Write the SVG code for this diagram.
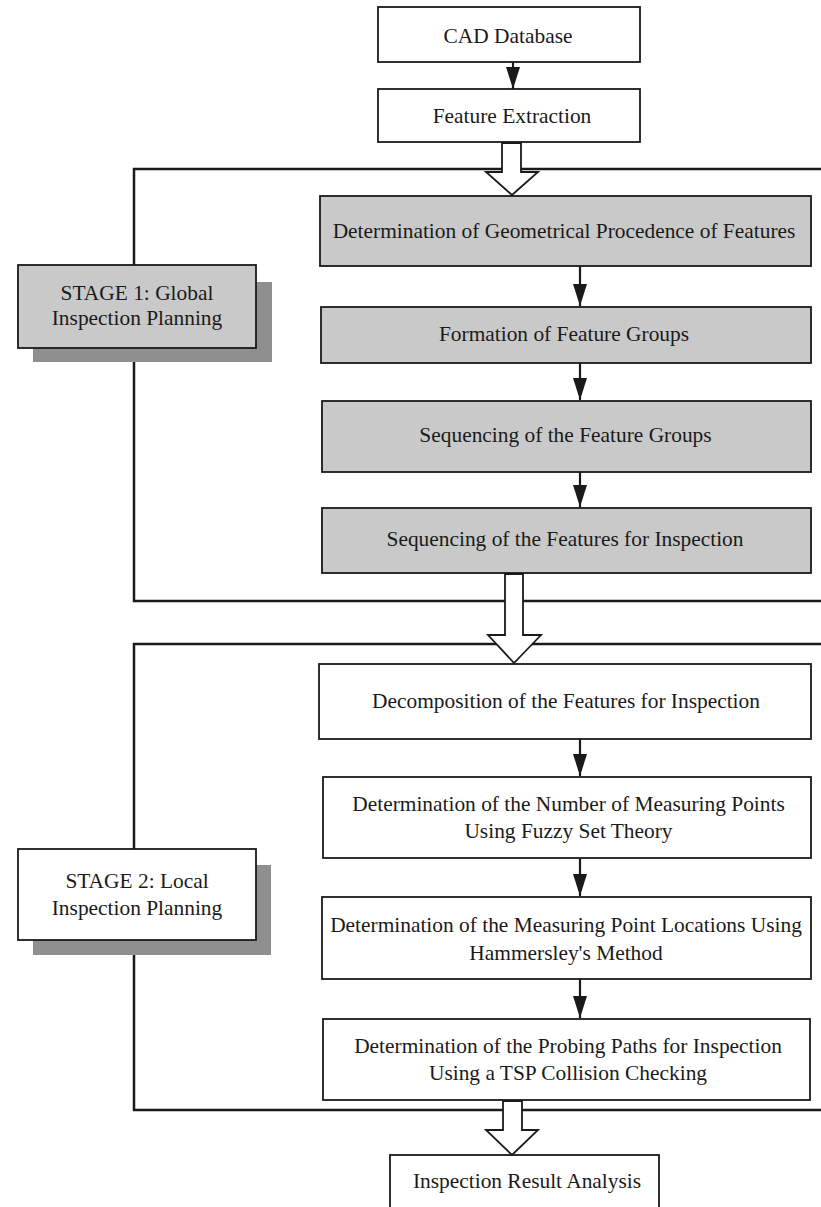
<svg xmlns="http://www.w3.org/2000/svg" width="821" height="1207" viewBox="0 0 821 1207">
<style>
.box{fill:#ffffff;stroke:#1a1a1a;stroke-width:1.8}
.gbox{fill:#c9c9c9;stroke:#1a1a1a;stroke-width:1.8}
.shadow{fill:#8f8f8f}
.t{font-family:"Liberation Serif","Times New Roman",serif;font-size:21.4px;fill:#1a1a1a;text-anchor:middle}
.br{fill:none;stroke:#1a1a1a;stroke-width:2.5}
.ln{stroke:#1a1a1a;stroke-width:2.2;fill:none}
.big{fill:#ffffff;stroke:#1a1a1a;stroke-width:1.8;stroke-linejoin:miter}
</style>
<defs>
<marker id="ah" markerUnits="userSpaceOnUse" markerWidth="22" markerHeight="14" refX="22" refY="7" orient="auto" viewBox="0 0 22 14">
<path d="M0,0 L22,7 L0,14 Z" fill="#1a1a1a"/>
</marker>
</defs>
<rect width="821" height="1207" fill="#ffffff"/>
<g id="brackets">
<polyline class="br" points="502,169 134,169 134,601 821,601"/>
<line class="br" x1="521" y1="169" x2="821" y2="169"/>
<polyline class="br" points="821,644 134,644 134,1110 821,1110"/>
</g>
<g id="cad"><rect class="box" x="378" y="7" width="262" height="55"/><text class="t" x="508" y="43">CAD Database</text></g>
<g id="fe"><rect class="box" x="378" y="89" width="262" height="53"/><text class="t" x="512" y="123">Feature Extraction</text></g>
<g id="stage1"><rect class="shadow" x="33" y="282" width="239" height="80"/><rect class="gbox" x="18" y="265" width="238" height="83"/><text class="t" x="137" y="300">STAGE 1: Global</text><text class="t" x="137" y="325">Inspection Planning</text></g>
<g id="geo"><rect class="gbox" x="320" y="196" width="491" height="70"/><text class="t" x="564" y="238">Determination of Geometrical Procedence of Features</text></g>
<g id="form"><rect class="gbox" x="321" y="307" width="490" height="56"/><text class="t" x="564" y="341">Formation of Feature Groups</text></g>
<g id="seqg"><rect class="gbox" x="322" y="401" width="489" height="71"/><text class="t" x="565.5" y="442">Sequencing of the Feature Groups</text></g>
<g id="seqf"><rect class="gbox" x="322" y="508" width="489" height="65"/><text class="t" x="565" y="546">Sequencing of the Features for Inspection</text></g>
<g id="stage2"><rect class="shadow" x="33" y="865" width="238" height="90"/><rect class="box" x="18" y="849" width="238" height="91"/><text class="t" x="137" y="888">STAGE 2: Local</text><text class="t" x="137" y="915">Inspection Planning</text></g>
<g id="decomp"><rect class="box" x="319" y="664" width="492" height="75"/><text class="t" x="566" y="708">Decomposition of the Features for Inspection</text></g>
<g id="number"><rect class="box" x="323" y="777" width="488" height="81"/><text class="t" x="568.5" y="811">Determination of the Number of Measuring Points</text><text class="t" x="568.5" y="838">Using Fuzzy Set Theory</text></g>
<g id="locations"><rect class="box" x="322" y="897" width="489" height="82"/><text class="t" x="566" y="932">Determination of the Measuring Point Locations Using</text><text class="t" x="566" y="960">Hammersley's Method</text></g>
<g id="probing"><rect class="box" x="323" y="1019" width="487" height="81"/><text class="t" x="568" y="1053">Determination of the Probing Paths for Inspection</text><text class="t" x="568" y="1080">Using a TSP Collision Checking</text></g>
<g id="result"><rect class="box" x="390" y="1155" width="269" height="60"/><text class="t" x="527" y="1188">Inspection Result Analysis</text></g>
<g id="connectors">
<line class="ln" x1="513" y1="62" x2="513" y2="89" marker-end="url(#ah)"/>
<line class="ln" x1="580" y1="266" x2="580" y2="306" marker-end="url(#ah)"/>
<line class="ln" x1="580" y1="363" x2="580" y2="400" marker-end="url(#ah)"/>
<line class="ln" x1="580" y1="472" x2="580" y2="507" marker-end="url(#ah)"/>
<line class="ln" x1="580" y1="739" x2="580" y2="776" marker-end="url(#ah)"/>
<line class="ln" x1="580" y1="858" x2="580" y2="896" marker-end="url(#ah)"/>
<line class="ln" x1="580" y1="979" x2="580" y2="1018" marker-end="url(#ah)"/>
<polygon class="big" points="502,143 521,143 521,172 538,172 512,195 486,172 502,172"/>
<polygon class="big" points="505,574 523,574 523,635 541,635 514,663 488,635 505,635"/>
<polygon class="big" points="503,1101 522,1101 522,1130 538,1130 512,1155 486,1130 503,1130"/>
</g>
</svg>
